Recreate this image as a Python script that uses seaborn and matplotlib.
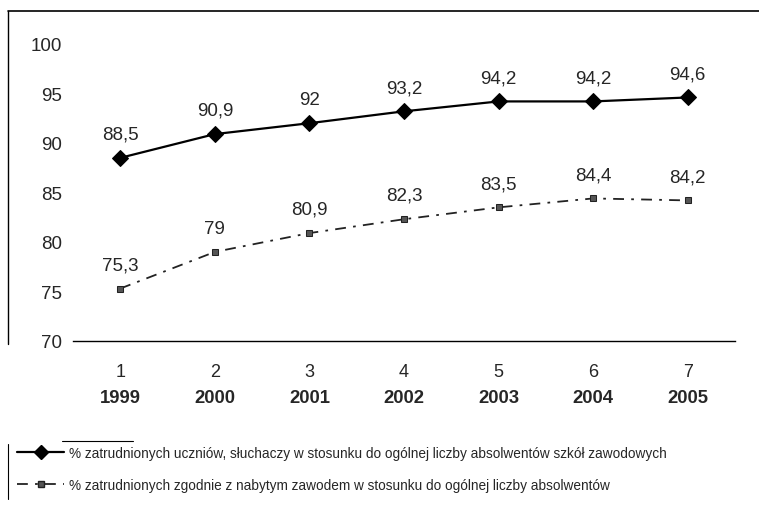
import numpy as np
import pandas as pd
import matplotlib
matplotlib.use("Agg")
import matplotlib.pyplot as plt
import seaborn as sns
from matplotlib.lines import Line2D

# dane
numery = [1, 2, 3, 4, 5, 6, 7]
lata = ["1999", "2000", "2001", "2002", "2003", "2004", "2005"]
zatrudnieni = [88.5, 90.9, 92.0, 93.2, 94.2, 94.2, 94.6]
zgodnie_z_zawodem = [75.3, 79.0, 80.9, 82.3, 83.5, 84.4, 84.2]
etykiety_1 = ["88,5", "90,9", "92", "93,2", "94,2", "94,2", "94,6"]
etykiety_2 = ["75,3", "79", "80,9", "82,3", "83,5", "84,4", "84,2"]
legenda = [
    "% zatrudnionych uczniów, słuchaczy w stosunku do ogólnej liczby absolwentów szkół zawodowych",
    "% zatrudnionych zgodnie z nabytym zawodem w stosunku do ogólnej liczby absolwentów",
]

df = pd.DataFrame({"nr": numery, "s1": zatrudnieni, "s2": zgodnie_z_zawodem})

sns.set_style("white")
plt.rcParams["font.family"] = ["Liberation Sans", "DejaVu Sans"]

fig = plt.figure(figsize=(7.59, 5.06), dpi=100)
ax = fig.add_axes([73 / 759, 1 - 342 / 506, (735 - 73) / 759, (342 - 45) / 506])

styl2 = (0, (6, 4, 1.5, 4))
sns.lineplot(data=df, x="nr", y="s1", ax=ax, color="black", lw=1.6,
             marker="D", markersize=8, markeredgecolor="black")
sns.lineplot(data=df, x="nr", y="s2", ax=ax, color="#222222", lw=1.3,
             marker="s", markersize=4.5, markerfacecolor="#555555",
             markeredgecolor="#222222", linestyle=styl2)

for x, y, t in zip(numery, zatrudnieni, etykiety_1):
    ax.annotate(t, (x, y), xytext=(0, 11), textcoords="offset points",
                ha="center", va="bottom", fontsize=13.5)
for x, y, t in zip(numery, zgodnie_z_zawodem, etykiety_2):
    ax.annotate(t, (x, y), xytext=(0, 11), textcoords="offset points",
                ha="center", va="bottom", fontsize=13.5)

ax.set_xlim(0.5, 7.5)
ax.set_ylim(70, 100)
ax.set_yticks([70, 75, 80, 85, 90, 95, 100])
ax.set_yticklabels(["70", "75", "80", "85", "90", "95", "100"], fontsize=13.5)
ax.set_xticks(numery)
ax.set_xticklabels([str(n) for n in numery], fontsize=13)
ax.tick_params(axis="x", length=0, pad=16)
ax.tick_params(axis="y", length=0, pad=8)
ax.set_xlabel("")
ax.set_ylabel("")
for s in ["top", "right", "left"]:
    ax.spines[s].set_visible(False)
ax.spines["bottom"].set_color("black")
ax.spines["bottom"].set_linewidth(1.0)

trans = ax.get_xaxis_transform()
for x, rok in zip(numery, lata):
    ax.text(x, -0.189, rok, transform=trans, ha="center", va="center",
            fontsize=13.3, fontweight="bold")

# ramka ze skanu
fig.add_artist(Line2D([8 / 759, 1], [1 - 12 / 506] * 2, color="black", lw=1.2))
fig.add_artist(Line2D([8 / 759] * 2, [1 - 12 / 506, 1 - 345 / 506], color="black", lw=1.0))
fig.add_artist(Line2D([8 / 759] * 2, [1 - 445 / 506, 1 - 500 / 506], color="black", lw=0.8))
fig.add_artist(Line2D([62 / 759, 133 / 759], [1 - 442 / 506] * 2, color="black", lw=0.8))

h1 = Line2D([], [], color="black", lw=1.6, marker="D", markersize=7)
h2 = Line2D([], [], color="#222222", lw=1.3, marker="s", markersize=4,
            markerfacecolor="#555555", linestyle=styl2)
fig.legend([h1, h2], legenda, loc="center left", bbox_to_anchor=(10 / 759, 1 - 470 / 506),
           frameon=False, handlelength=3.5, handletextpad=0.3, labelspacing=1.3,
           borderpad=0, prop={"size": 9.8})

fig.savefig("out.png", dpi=100)
